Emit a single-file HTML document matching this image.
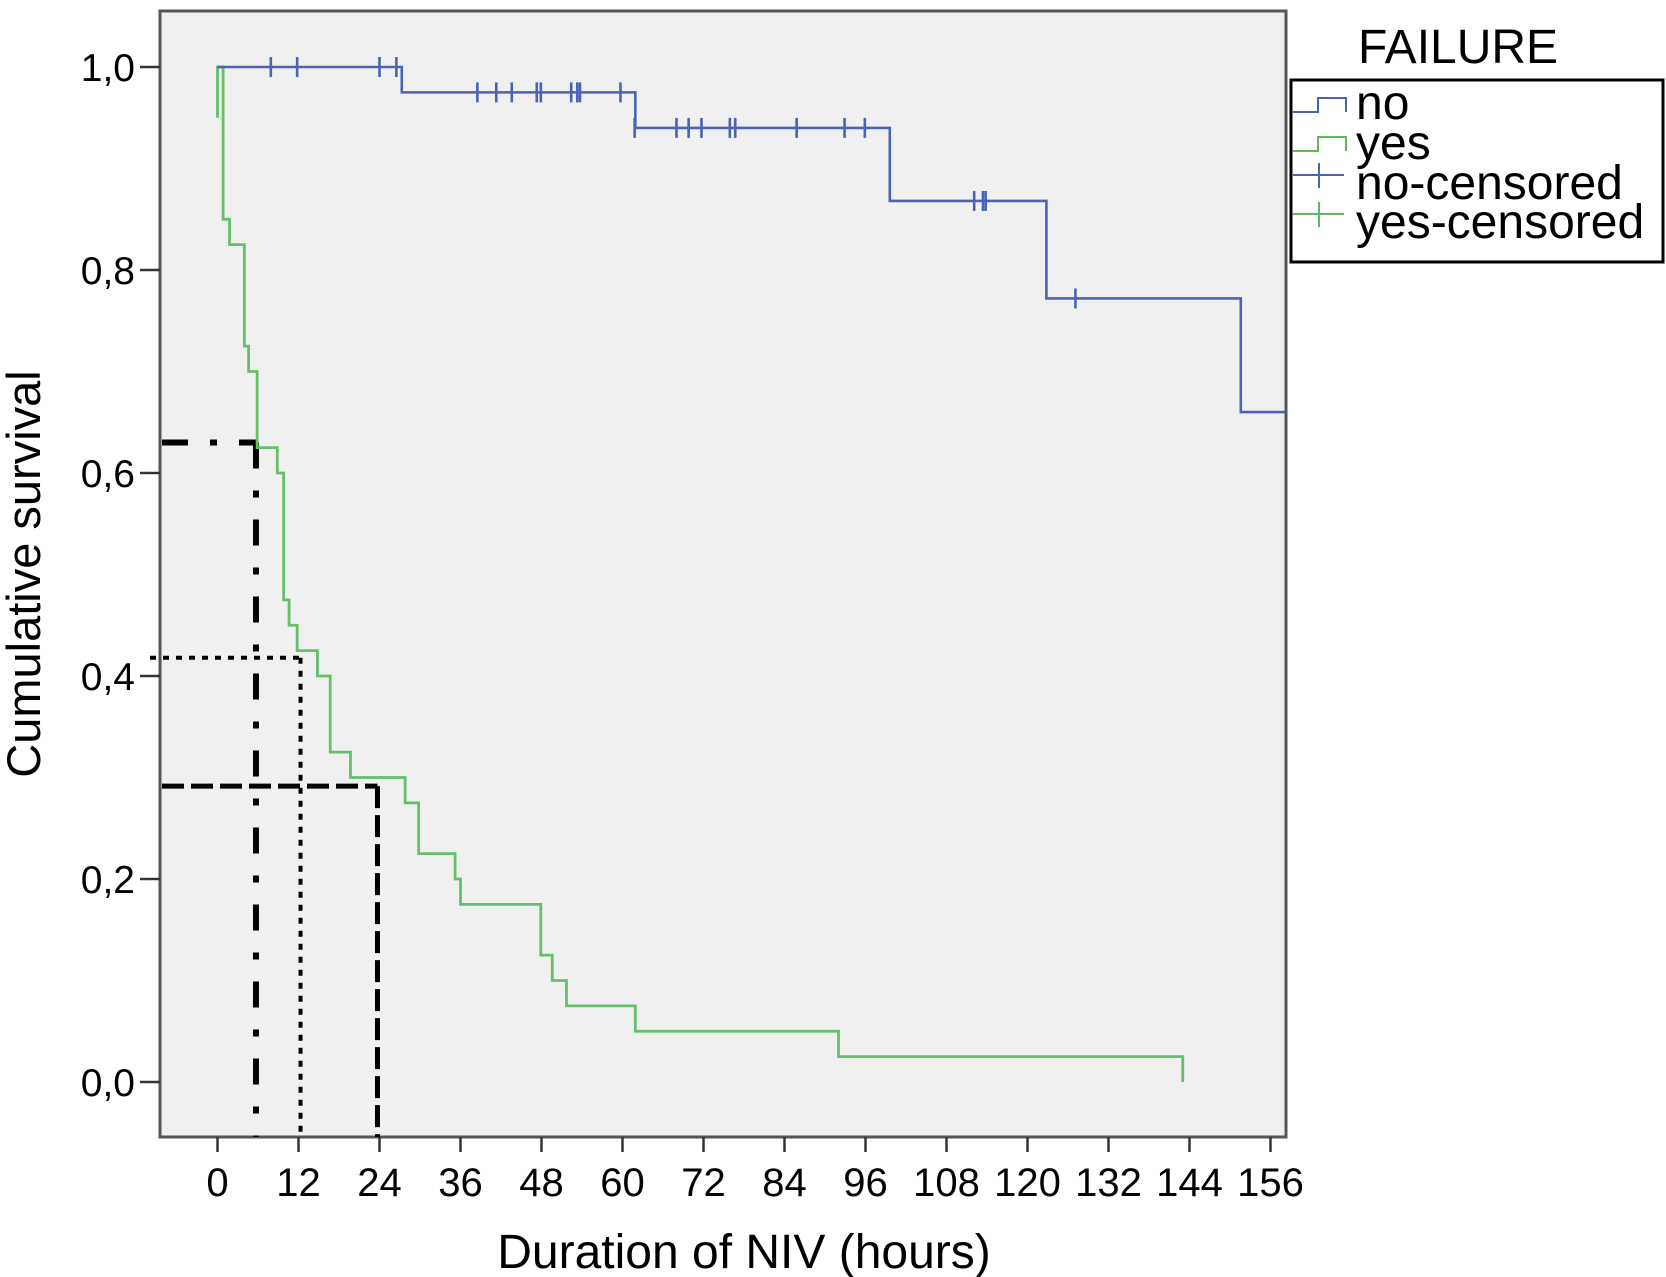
<!DOCTYPE html>
<html><head><meta charset="utf-8"><style>
html,body{margin:0;padding:0;background:#fff;}
svg{display:block;font-family:"Liberation Sans",sans-serif;}
</style></head><body>
<svg id="chart" width="1666" height="1277" viewBox="0 0 1666 1277" xmlns="http://www.w3.org/2000/svg">
<rect x="160" y="11" width="1126" height="1126" fill="#f0f0f0" stroke="#555" stroke-width="3"/>
<g id="axes"></g>
<g id="refs"></g>
<g id="series"></g>
<text x="0" y="0" transform="translate(40,574) rotate(-90)" text-anchor="middle" font-size="47">Cumulative survival</text>
<text x="744" y="1268" text-anchor="middle" font-size="48">Duration of NIV (hours)</text>
<text x="1358" y="63" font-size="48">FAILURE</text>
<g>
<rect x="1291" y="80" width="372" height="182" fill="#fff" stroke="#000" stroke-width="3"/>
<path d="M1293 112 H1318 V98 H1346 V112" fill="none" stroke="#4a63b5" stroke-width="2"/>
<text x="1356" y="119" font-size="48">no</text>
<path d="M1293 151 H1318 V137 H1346 V151" fill="none" stroke="#5cb85c" stroke-width="2"/>
<text x="1356" y="159" font-size="48">yes</text>
<path d="M1293 175 H1344 M1319 163 V188" fill="none" stroke="#4a63b5" stroke-width="2"/>
<text x="1356" y="199" font-size="48">no-censored</text>
<path d="M1293 214 H1344 M1319 202 V227" fill="none" stroke="#5cb85c" stroke-width="2"/>
<text x="1356" y="238" font-size="48">yes-censored</text>
</g>
</svg>
<script>
const xTicks = [0,12,24,36,48,60,72,84,96,108,120,132,144,156];
const yTicks = [0,0.2,0.4,0.6,0.8,1.0];
const yTickLabels = ["0,0","0,2","0,4","0,6","0,8","1,0"];
const noTimes = [0,27.3,61.9,99.6,122.8,151.6];
const noValues = [1.0,0.975,0.94,0.868,0.772,0.66];
const noEnd = 158.2;
const noCensorTimes = [7.9,11.8,24.0,26.5,38.5,41.3,43.6,47.3,47.9,52.4,53.3,53.7,59.7,61.8,68.0,69.8,71.7,75.9,76.7,85.8,92.9,95.9,112.1,113.4,113.8,127.1];
const noCensorValues = [1,1,1,1,0.975,0.975,0.975,0.975,0.975,0.975,0.975,0.975,0.975,0.94,0.94,0.94,0.94,0.94,0.94,0.94,0.94,0.94,0.868,0.868,0.868,0.772];
const yesTimes = [0,0.83,1.78,3.98,4.61,5.87,8.86,9.80,10.6,11.8,14.8,16.7,19.7,27.8,29.8,35.2,36.0,47.9,49.6,51.7,61.9,92.0,143.0];
const yesValues = [1.0,0.85,0.825,0.725,0.70,0.625,0.60,0.475,0.45,0.425,0.40,0.325,0.30,0.275,0.225,0.20,0.175,0.125,0.10,0.075,0.05,0.025,0.0];
const yesStartValue = 0.95;
const refTimes = [5.7,12.3,23.7];
const refValues = [0.63,0.418,0.2915];

const NS="http://www.w3.org/2000/svg";
const X = h => 217.5 + 6.75*h;
const Y = v => 1082 - 1015*v;
const xmin=160, ybot=1137;
function mk(tag, attrs, parent){const e=document.createElementNS(NS,tag);for(const k in attrs)e.setAttribute(k,attrs[k]);parent.appendChild(e);return e;}
const axes=document.getElementById('axes');
xTicks.forEach((t)=>{
  const l=mk('line',{x1:X(t),x2:X(t),y1:ybot,y2:ybot+15,stroke:'#333','stroke-width':2.5},axes);
  
  
  const tx=mk('text',{x:X(t),y:1196,'text-anchor':'middle','font-size':40},axes);
  tx.textContent=t;
  
  
});
yTicks.forEach((v,i)=>{
  const l=mk('line',{x1:140,x2:xmin,y1:Y(v),y2:Y(v),stroke:'#333','stroke-width':2.5},axes);
  
  
  const tx=mk('text',{x:135,y:Y(v)+14,'text-anchor':'end','font-size':39},axes);
  tx.textContent=yTickLabels[i];
  
  
});
const refs=document.getElementById('refs');
const styles=[{da:'26 22 7 22',w:6},{da:'6 7',w:4},{da:'22 7',w:5}];
const refNames=['ref-dashdot','ref-dotted','ref-dashed'];
refTimes.forEach((t,i)=>{
  const st=styles[i];
  const x0 = i===1 ? 150 : xmin+2;
  const p=mk('path',{d:`M${x0} ${Y(refValues[i])} H${X(t)} M${X(t)} ${Y(refValues[i])} V${ybot}`,fill:'none',stroke:'#000','stroke-width':st.w,'stroke-dasharray':st.da},refs);
  
  
});
const ser=document.getElementById('series');
function stepPath(times,vals,end){
  let d=`M${X(times[0])} ${Y(vals[0])}`;
  for(let i=1;i<times.length;i++){d+=` H${X(times[i])} V${Y(vals[i])}`;}
  if(end!==undefined) d+=` H${X(end)}`;
  return d;
}
const gp=mk('path',{d:`M${X(0)} ${Y(yesStartValue)} V${Y(1)} `+stepPath(yesTimes,yesValues).replace(/^M[^H]*/,''),fill:'none',stroke:'#66bf6a','stroke-width':2.8},ser);


const bp=mk('path',{d:stepPath(noTimes,noValues,noEnd),fill:'none',stroke:'#4a63b5','stroke-width':2.6},ser);


noCensorTimes.forEach((t,i)=>{
  const c=mk('line',{x1:X(t),x2:X(t),y1:Y(noCensorValues[i])-10,y2:Y(noCensorValues[i])+10,stroke:'#4a63b5','stroke-width':2.6},ser);
  
  
});
</script>
</body></html>
